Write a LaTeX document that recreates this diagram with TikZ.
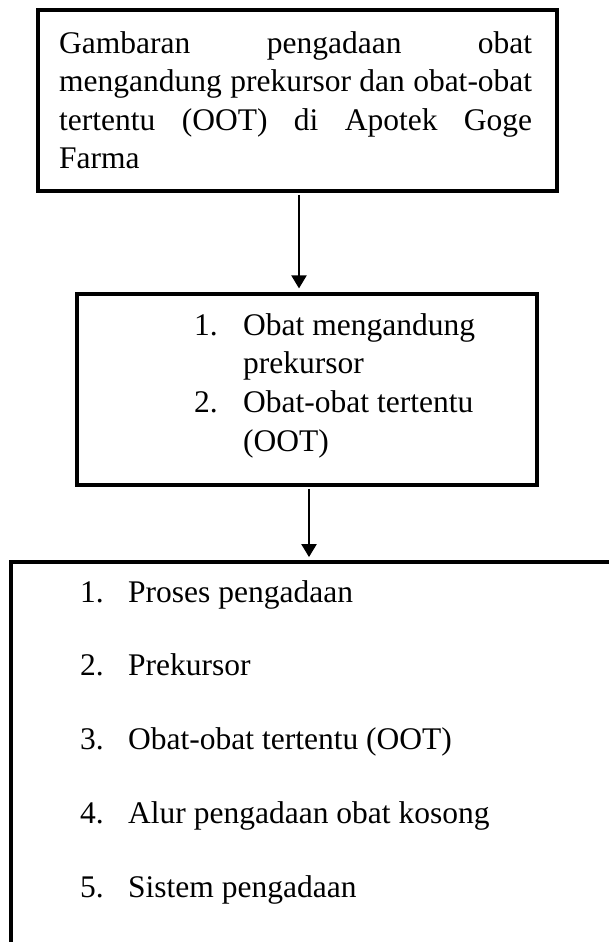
\documentclass[tikz,border=0pt]{standalone}
\usepackage{fontspec}
\setmainfont{Liberation Serif}
\usetikzlibrary{arrows.meta}
\begin{document}
\begin{tikzpicture}[x=1pt,y=-1pt,
  box/.style={draw=black, line width=3.8pt, rectangle, inner sep=0pt},
  txt/.style={anchor=base west, inner sep=0pt, font=\fontsize{31.5pt}{38pt}\selectfont},
  arr/.style={line width=2.2pt, -{Triangle[width=15pt,length=13pt]}}]
\useasboundingbox (0,0) rectangle (609,942);
\fill[white] (0,0) rectangle (609,942);
\clip (0,0) rectangle (609,942);
% boxes
\node[box, minimum width=519pt, minimum height=180.7pt] (top) at (297.5,100.65) {};
\node[box, minimum width=459.7pt, minimum height=190.7pt] (mid) at (307.15,389.65) {};
\node[box, minimum width=629pt, minimum height=418pt] (bot) at (325.4,771) {};
% top text
\node[txt] (t1) at (59,53) {\hbox to 473pt{Gambaran\hfill pengadaan\hfill obat}};
\node[txt] (t2) at (59,91.5) {\hbox to 473pt{mengandung\hfill prekursor\hfill dan\hfill obat-obat}};
\node[txt] (t3) at (59,130) {\hbox to 473pt{tertentu\hfill (OOT)\hfill di\hfill Apotek\hfill Goge}};
\node[txt] (t4) at (59,168.5) {Farma};
% middle text
\node[txt] (m1n) at (194,335) {1.};
\node[txt] (m1) at (243,335) {Obat mengandung};
\node[txt] (m1b) at (243,373.5) {prekursor};
\node[txt] (m2n) at (194,412) {2.};
\node[txt] (m2) at (243,412) {Obat-obat tertentu};
\node[txt] (m2b) at (243,451) {(OOT)};
% bottom text
\node[txt] (b1n) at (80,602) {1.};
\node[txt] (b1) at (128,602) {Proses pengadaan};
\node[txt] (b2n) at (80,675.5) {2.};
\node[txt] (b2) at (128,675.5) {Prekursor};
\node[txt] (b3n) at (80,749) {3.};
\node[txt] (b3) at (128,749) {Obat-obat tertentu (OOT)};
\node[txt] (b4n) at (80,823) {4.};
\node[txt] (b4) at (128,823) {Alur pengadaan obat kosong};
\node[txt] (b5n) at (80,897) {5.};
\node[txt] (b5) at (128,897) {Sistem pengadaan};
% connectors
\coordinate (a1) at (299,0);
\coordinate (a2) at (309,0);
\draw[arr] ([yshift=-1.9pt]top.south -| a1) -- ([yshift=4pt]mid.north -| a1);
\draw[arr] ([yshift=-1.9pt]mid.south -| a2) -- ([yshift=3pt]bot.north -| a2);
\end{tikzpicture}
\end{document}
